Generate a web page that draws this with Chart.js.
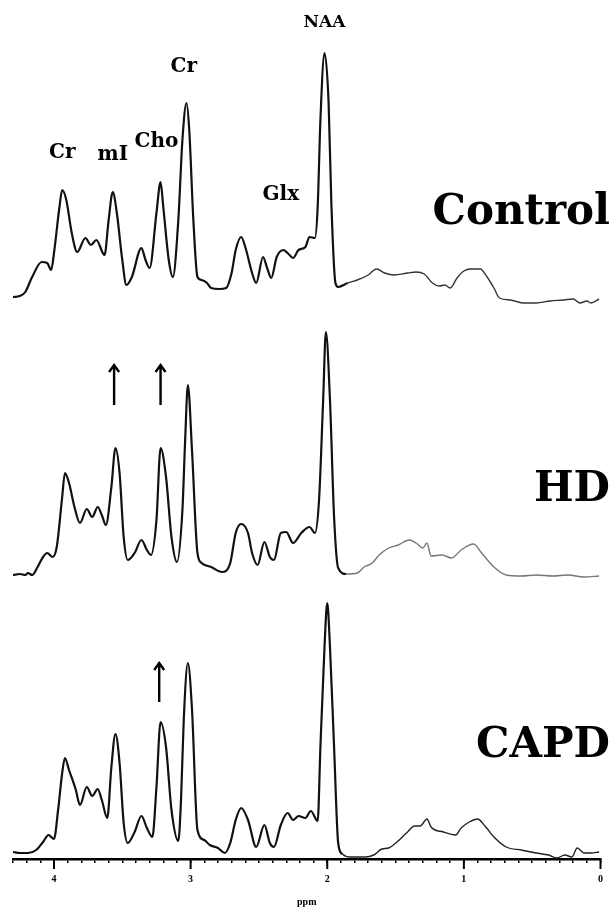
<!DOCTYPE html>
<html>
<head>
<meta charset="utf-8">
<title>MRS spectra</title>
<script src="https://cdn.jsdelivr.net/npm/chart.js@4.4.1/dist/chart.umd.min.js"></script>
<style>
  html, body { margin: 0; padding: 0; background: #fff; }
</style>
</head>
<body>
<canvas id="spectra" width="613" height="910"></canvas>
<script>
// groups, metabolite names and axis ticks
const groups = ['Control', 'HD', 'CAPD'];
const peakNames = ['Cr', 'mI', 'Cho', 'Cr', 'Glx', 'NAA'];
const majorTicks = [4, 3, 2, 1, 0];

// spectra: chemical shift (ppm) / signal (a.u.)
const controlPpm = [4.30,4.25,4.21,4.16,4.09,4.05,4.02,4.00,3.96,3.94,3.91,3.87,3.83,3.77,3.73,3.69,3.63,3.60,3.57,3.54,3.50,3.47,3.43,3.36,3.33,3.30,3.25,3.22,3.20,3.16,3.13,3.09,3.06,3.03,3.01,2.98,2.95,2.92,2.88,2.85,2.79,2.74,2.70,2.67,2.63,2.60,2.55,2.52,2.47,2.44,2.41,2.37,2.32,2.29,2.25,2.21,2.16,2.13,2.09,2.07,2.05,2.02,1.99,1.97,1.94,1.92,1.85,1.78,1.70,1.64,1.58,1.51,1.41,1.35,1.29,1.23,1.18,1.14,1.10,1.05,1.00,0.95,0.88,0.83,0.78,0.74,0.66,0.56,0.47,0.37,0.27,0.20,0.15,0.10,0.07,0.01];
const controlSignal = [3,4,8,23,38,37,30,47,93,110,100,67,48,62,55,60,45,80,108,87,40,15,23,52,40,32,87,118,93,40,23,80,160,197,170,80,23,20,17,12,11,12,27,50,63,53,27,17,43,32,22,43,50,47,42,50,53,63,62,93,180,247,197,97,17,13,17,20,25,31,27,25,27,28,26,17,14,15,12,22,29,31,31,23,12,2,0,-3,-3,-1,0,1,-3,-1,-3,1];

const hdPpm = [4.30,4.25,4.21,4.19,4.16,4.12,4.08,4.05,4.01,3.98,3.94,3.92,3.89,3.85,3.81,3.76,3.72,3.68,3.65,3.62,3.58,3.55,3.52,3.49,3.46,3.41,3.36,3.32,3.29,3.25,3.22,3.18,3.14,3.10,3.06,3.04,3.02,2.99,2.95,2.92,2.85,2.77,2.71,2.67,2.63,2.58,2.55,2.51,2.46,2.42,2.39,2.34,2.30,2.25,2.19,2.13,2.09,2.06,2.03,2.01,1.98,1.95,1.92,1.86,1.78,1.73,1.67,1.62,1.55,1.48,1.40,1.35,1.30,1.27,1.24,1.16,1.09,1.02,0.93,0.87,0.78,0.69,0.58,0.47,0.35,0.24,0.12,0.01];
const hdSignal = [2,3,2,4,2,10,20,24,20,30,80,104,94,70,54,68,60,70,62,52,90,129,104,40,17,24,37,27,22,57,129,100,40,15,67,137,192,127,24,14,10,5,14,44,53,44,24,12,35,20,17,44,45,34,44,50,44,77,177,245,177,60,9,3,4,10,14,22,29,32,37,34,29,34,21,22,19,27,33,24,10,2,1,2,1,2,0,1];

const capdPpm = [4.30,4.25,4.19,4.13,4.08,4.04,4.00,3.97,3.94,3.92,3.89,3.84,3.81,3.76,3.72,3.68,3.65,3.61,3.58,3.55,3.52,3.49,3.46,3.41,3.36,3.32,3.28,3.25,3.22,3.18,3.14,3.09,3.07,3.05,3.02,2.99,2.95,2.90,2.86,2.80,2.75,2.71,2.67,2.63,2.58,2.52,2.46,2.42,2.39,2.34,2.29,2.25,2.21,2.16,2.12,2.07,2.05,2.02,2.00,1.98,1.95,1.92,1.89,1.83,1.72,1.66,1.60,1.55,1.49,1.42,1.36,1.32,1.27,1.24,1.15,1.06,1.02,0.96,0.90,0.84,0.78,0.69,0.58,0.47,0.38,0.32,0.26,0.21,0.17,0.12,0.07,0.01];
const capdSignal = [7,6,6,9,17,24,20,49,86,101,89,69,54,72,63,70,59,41,92,125,96,36,16,27,43,31,22,72,137,112,49,18,60,140,196,150,29,19,14,11,6,16,39,51,39,12,34,16,12,34,46,39,43,41,48,38,112,212,256,212,112,16,5,2,2,4,10,11,17,26,33,33,40,32,27,24,31,37,40,32,22,12,9,6,4,1,4,2,11,6,6,7];

// vertical shift of each trace on the shared y scale
const offsets = { Control: 559, HD: 282, CAPD: 0 };

function toPoints(ppm, signal, shift) {
    return ppm.map((x, i) => ({ x: x, y: signal[i] + shift }));
}

function trace(label, ppm, signal, tailColor) {
    return {
        label: label,
        data: toPoints(ppm, signal, offsets[label]),
        borderColor: '#111',
        borderWidth: 2.2,
        pointRadius: 0,
        cubicInterpolationMode: 'monotone',
        segment: {
            // right side of the spectra is printed thinner / lighter
            borderWidth: ctx => ctx.p0.parsed.x < 1.9 ? 1.4 : 2.2,
            borderColor: ctx => ctx.p0.parsed.x < 1.9 ? tailColor : '#111'
        }
    };
}

// labels, arrows and the long integer ticks
const annotate = {
    id: 'annotate',
    afterDraw(chart, args, opts) {
        const ctx = chart.ctx;
        const xs = chart.scales.x;
        const ys = chart.scales.y;
        ctx.save();
        ctx.fillStyle = '#000';
        ctx.strokeStyle = '#000';

        // metabolite names above the control spectrum
        ctx.textAlign = 'center';
        ctx.textBaseline = 'middle';
        peakNames.forEach((name, i) => {
            const a = opts.peaks[i];
            ctx.font = 'bold ' + (name === 'NAA' ? 17 : 20) + 'px "DejaVu Serif"';
            ctx.fillText(name, xs.getPixelForValue(a[0]), ys.getPixelForValue(a[1] + offsets.Control));
        });

        // group names on the right
        ctx.font = 'bold 42px "DejaVu Serif"';
        ctx.textAlign = 'right';
        groups.forEach((g, i) => {
            ctx.fillText(g, chart.width - 3, ys.getPixelForValue(opts.groupY[i] + offsets[g]));
        });

        // arrows
        ctx.lineWidth = 2.4;
        opts.arrows.forEach(a => {
            const x = xs.getPixelForValue(a.ppm);
            const y0 = ys.getPixelForValue(a.from + offsets[a.group]);
            const y1 = ys.getPixelForValue(a.to + offsets[a.group]);
            ctx.beginPath();
            ctx.moveTo(x, y0);
            ctx.lineTo(x, y1 + 1);
            ctx.moveTo(x - 5, y1 + 7);
            ctx.lineTo(x, y1);
            ctx.lineTo(x + 5, y1 + 7);
            ctx.stroke();
        });

        // longer ticks at whole ppm
        ctx.lineWidth = 2;
        majorTicks.forEach(t => {
            const x = xs.getPixelForValue(t);
            ctx.beginPath();
            ctx.moveTo(x, xs.top);
            ctx.lineTo(x, xs.top + 10);
            ctx.stroke();
        });
        ctx.restore();
    }
};

new Chart(document.getElementById('spectra'), {
    type: 'line',
    data: {
        datasets: [
            trace('Control', controlPpm, controlSignal, '#333'),
            trace('HD', hdPpm, hdSignal, '#777'),
            trace('CAPD', capdPpm, capdSignal, '#222')
        ]
    },
    options: {
        responsive: false,
        animation: false,
        layout: { padding: { left: 13, right: 9, top: 0, bottom: 0 } },
        plugins: {
            legend: { display: false },
            tooltip: { enabled: false },
            annotate: {
                peaks: [[3.94, 147], [3.57, 145], [3.25, 158], [3.05, 233], [2.34, 105], [2.02, 277]],
                groupY: [87, 87, 113],
                arrows: [
                    { group: 'HD', ppm: 3.56, from: 172, to: 212 },
                    { group: 'HD', ppm: 3.22, from: 172, to: 212 },
                    { group: 'CAPD', ppm: 3.23, from: 157, to: 196 }
                ]
            }
        },
        scales: {
            x: {
                type: 'linear',
                reverse: true,
                min: 0,
                max: 4.3,
                afterFit: scale => { scale.height = 51; },
                border: { display: true, color: '#000', width: 2.5 },
                grid: { drawOnChartArea: false, color: '#000', lineWidth: 1.5, tickLength: 4 },
                ticks: {
                    stepSize: 0.1,
                    autoSkip: false,
                    maxRotation: 0,
                    padding: 10,
                    color: '#000',
                    font: { family: '"Liberation Serif"', weight: 'bold', size: 10 },
                    callback: v => Math.abs(v - Math.round(v)) < 1e-6 ? String(Math.round(v)) : ''
                },
                title: {
                    display: true,
                    text: 'ppm',
                    color: '#000',
                    font: { family: '"Liberation Serif"', weight: 'bold', size: 10 },
                    padding: { top: 0, bottom: 2 }
                }
            },
            y: {
                display: false,
                min: 0,
                max: 859
            }
        }
    },
    plugins: [annotate]
});
</script>
</body>
</html>
